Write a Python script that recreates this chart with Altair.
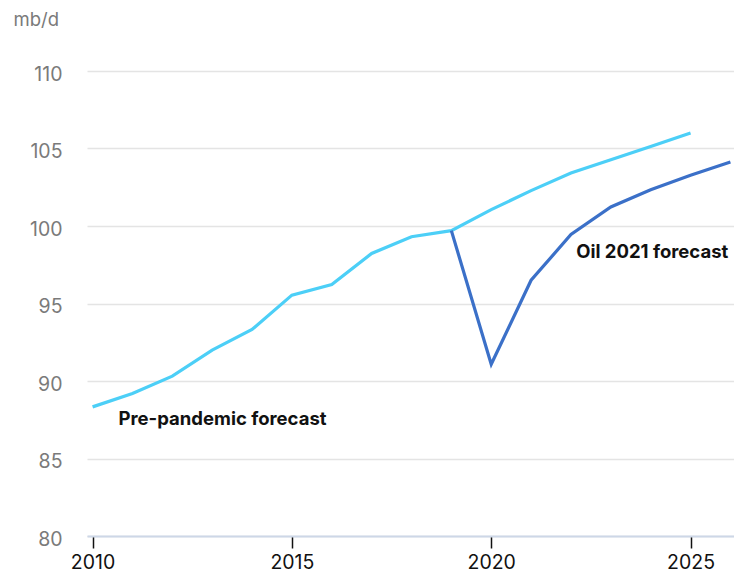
import altair as alt
import pandas as pd

# World oil demand, mb/d
years_pre = list(range(2010, 2026))
pre_pandemic = [88.33, 89.19, 90.31, 91.99, 93.32, 95.54, 96.23, 98.23,
                99.31, 99.70, 101.06, 102.28, 103.42, 104.28, 105.13, 106.0]

years_oil21 = list(range(2019, 2027))
oil_2021 = [99.70, 91.08, 96.50, 99.45, 101.23, 102.34, 103.27, 104.13]

label_text = ["Pre-pandemic forecast", "Oil 2021 forecast"]
label_x = [2010.65, 2022.13]
label_y = [87.15, 97.93]

FONT = "Inter"

df = pd.concat([
    pd.DataFrame({"year": years_pre, "value": pre_pandemic, "series": "Pre-pandemic forecast"}),
    pd.DataFrame({"year": years_oil21, "value": oil_2021, "series": "Oil 2021 forecast"}),
])
labels = pd.DataFrame({"text": label_text, "year": label_x, "value": label_y})

x_scale = alt.Scale(domain=[2009.86, 2026.09], nice=False, zero=False)
y_scale = alt.Scale(domain=[80, 110], nice=False, zero=False)

lines = alt.Chart(df).mark_line(strokeWidth=3.2, clip=True).encode(
    x=alt.X("year:Q", scale=x_scale,
            axis=alt.Axis(values=[2010, 2015, 2020, 2025], format="d", grid=False,
                          title=None, tickColor="#111111", tickSize=12, tickWidth=1.5,
                          labelColor="#111111", labelFontSize=19.5, labelFont=FONT,
                          labelPadding=5, domainColor="#cdd7e7", domainWidth=2)),
    y=alt.Y("value:Q", scale=y_scale,
            axis=alt.Axis(values=[80, 85, 90, 95, 100, 105, 110], grid=True,
                          gridColor="#e4e4e4", gridWidth=1.5, domain=False, ticks=False,
                          labelColor="#7a7a7a", labelFontSize=19.5, labelFont=FONT,
                          labelPadding=25, labelOffset=3, title="mb/d", titleAngle=0,
                          titleX=-74, titleY=-46, titleAlign="left",
                          titleBaseline="alphabetic", titleFont=FONT,
                          titleFontSize=18.5, titleFontWeight="normal",
                          titleColor="#7a7a7a")),
    color=alt.Color("series:N",
                    scale=alt.Scale(domain=["Pre-pandemic forecast", "Oil 2021 forecast"],
                                    range=["#4ccff7", "#3b70c8"]),
                    legend=None),
    order=alt.Order("series:N", sort="descending"),
)

text = alt.Chart(labels).mark_text(
    align="left", baseline="alphabetic", font=FONT, fontSize=18.5,
    fontWeight="bold", color="#111111"
).encode(
    x=alt.X("year:Q", scale=x_scale),
    y=alt.Y("value:Q", scale=y_scale),
    text="text:N",
)

chart = alt.layer(lines, text).properties(
    width=647, height=465,
    background="white",
    autosize=alt.AutoSizeParams(type="none"),
    padding={"left": 87, "top": 71, "right": 0, "bottom": 36},
).configure_view(stroke=None)

chart.save("out.html", embed_options={"renderer": "svg", "actions": False})
